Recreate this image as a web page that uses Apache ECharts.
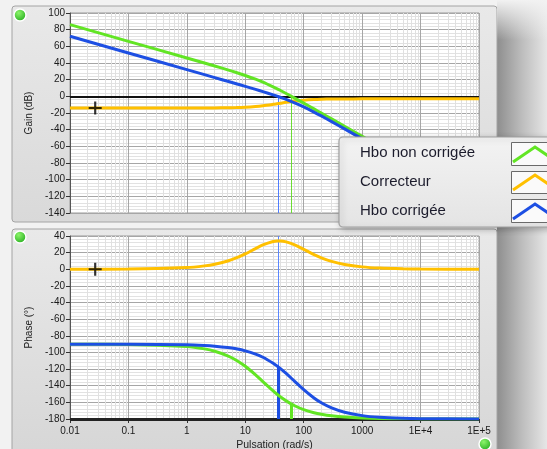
<!DOCTYPE html>
<html><head><meta charset="utf-8">
<script src="https://cdn.jsdelivr.net/npm/echarts@6/dist/echarts.min.js"></script>
<style>html,body{margin:0;padding:0;background:#f2f2f2;}#c{width:547px;height:449px;}</style>
</head><body><div id="c"></div>
<script>
// ---- data ----
const freq = [0.01,0.1,1,2,3,5,7,10,15,20,30,35,40,50,70,100,150,200,300,500,1000,2000,5000,10000,100000];
const gainUncorrected = [86.0,66.0,46.0,39.96,36.38,31.78,28.62,25.05,20.56,16.97,11.34,9.05,6.99,3.44,-2.12,-8.13,-15.08,-20.04,-27.06,-35.93,-47.96,-60.0,-75.9,-87.96,-127.96];
const gainCorrector = [-13.98,-13.98,-13.97,-13.94,-13.89,-13.74,-13.52,-13.10,-12.23,-11.30,-9.58,-8.84,-8.20,-7.14,-5.73,-4.60,-3.80,-3.48,-3.23,-3.09,-3.03,-3.01,-3.01,-3.01,-3.01];
const gainCorrected = [72.04,52.04,32.04,26.02,22.49,18.04,15.10,11.95,8.33,5.69,1.78,0.21,-1.21,-3.70,-7.83,-12.73,-18.88,-23.52,-30.29,-39.02,-50.99,-63.02,-78.93,-90.96,-130.96];
const phaseUncorrected = [-90.0,-90.29,-92.86,-95.71,-98.53,-104.04,-109.29,-116.57,-126.87,-135,-146.31,-150.26,-153.43,-158.2,-164.05,-168.69,-172.41,-174.29,-176.19,-177.71,-178.85,-179.43,-179.77,-179.89,-179.99];
const phaseCorrector = [0.02,0.21,2.05,4.09,6.10,10.0,13.64,18.52,24.89,29.21,33.32,33.93,33.94,32.94,29.33,23.96,17.65,13.76,9.45,5.76,2.89,1.45,0.58,0.29,0.03];
const phaseCorrected = [-90.01,-90.08,-90.81,-91.62,-92.43,-94.04,-95.65,-98.05,-101.98,-105.79,-112.99,-116.33,-119.49,-125.26,-134.72,-144.73,-154.76,-160.53,-166.74,-171.95,-175.96,-177.98,-179.19,-179.59,-179.96];
const xTickLabels = ['0.01','0.1','1','10','100','1000','1E+4','1E+5'];
const seriesNames = ['Hbo non corrigée','Correcteur','Hbo corrigée'];
const crossFreqCorrected = 36;
const crossFreqUncorrected = 62;
const phaseAtCrossCorrected = -117.5;
const phaseAtCrossUncorrected = -162;
const cursorGain = [[0.027, -14]];
const cursorPhase = [[0.027, 0]];

// ---- styles ----
const GREEN = '#62e524', ORANGE = '#ffc000', BLUE = '#1d4fe3';
const FONT = 'Liberation Sans';
const zip = (ys) => freq.map((f, i) => [f, ys[i]]);
const minorFreqs = [];
for (let d = -2; d < 5; d++) for (let k = 2; k <= 9; k++) minorFreqs.push(+(k * Math.pow(10, d)).toPrecision(3));
const minorLines = minorFreqs.map(f => ({ xAxis: f }));
const plusPath = 'path://M5,0 L7,0 L7,5 L12,5 L12,7 L7,7 L7,12 L5,12 L5,7 L0,7 L0,5 L5,5 Z';

function xAxisCfg(idx, showLabels) {
  return {
    type: 'log', logBase: 10, min: 0.01, max: 100000, gridIndex: idx, z: 2,
    splitNumber: 7,
    axisLine: { show: showLabels, onZero: false, lineStyle: { color: '#333', width: 1 } },
    axisTick: { show: showLabels, length: 4, lineStyle: { color: '#333' } },
    axisLabel: {
      show: showLabels, color: '#1a1a1a', fontFamily: FONT, fontSize: 10, margin: 7,
      formatter: v => xTickLabels[Math.round(Math.log10(v)) + 2] || ''
    },
    splitLine: { show: true, lineStyle: { color: '#a6a6a6', width: 1 } },
    name: showLabels ? 'Pulsation (rad/s)' : '',
    nameLocation: 'middle', nameGap: 21,
    nameTextStyle: { color: '#222', fontFamily: FONT, fontSize: 10.5 }
  };
}
function yAxisCfg(idx, min, max, name) {
  return {
    type: 'value', gridIndex: idx, min: min, max: max, interval: 20, z: 2,
    axisLine: { show: true, lineStyle: { color: '#555' } },
    axisTick: { show: true, length: 4, lineStyle: { color: '#333' } },
    axisLabel: { color: '#1a1a1a', fontFamily: FONT, fontSize: 10, margin: 5 },
    splitLine: { show: true, lineStyle: { color: '#a6a6a6', width: 1 } },
    minorTick: { show: false, splitNumber: 5 },
    minorSplitLine: { show: true, lineStyle: { color: '#e2e2e2', width: 1 } },
    name: name, nameLocation: 'middle', nameGap: 31, nameRotate: 90,
    nameTextStyle: { color: '#222', fontFamily: FONT, fontSize: 10 }
  };
}
function curve(name, data, color, xi, yi) {
  return { name, type: 'line', xAxisIndex: xi, yAxisIndex: yi, data: zip(data),
    showSymbol: false, smooth: 0.3, lineStyle: { color, width: 3 }, itemStyle: { color }, z: 5, animation: false };
}
function gridSeries(xi, yi) {
  return { type: 'line', xAxisIndex: xi, yAxisIndex: yi, data: [], z: 1, silent: true, animation: false,
    markLine: { silent: true, symbol: 'none', animation: false, label: { show: false },
      lineStyle: { color: '#e0e0e0', width: 1, type: 'solid' }, data: minorLines } };
}
function vline(f, y0, y1, color, width) {
  return [{ coord: [f, y0], lineStyle: { color, width, type: 'solid' } }, { coord: [f, y1] }];
}
function hline(y, color, width) {
  return { yAxis: y, lineStyle: { color, width, type: 'solid' } };
}

const option = {
  backgroundColor: '#f2f2f2',
  animation: false,
  grid: [
    { left: 70, top: 13, width: 409, height: 200, show: true, backgroundColor: '#ffffff', borderColor: '#9a9a9a', borderWidth: 1, z: 0, outerBoundsMode: 'none', containLabel: false },
    { left: 70, top: 236, width: 409, height: 183, show: true, backgroundColor: '#ffffff', borderColor: '#9a9a9a', borderWidth: 1, z: 0, outerBoundsMode: 'none', containLabel: false }
  ],
  xAxis: [xAxisCfg(0, false), xAxisCfg(1, true)],
  yAxis: [yAxisCfg(0, -140, 100, 'Gain (dB)'), yAxisCfg(1, -180, 40, 'Phase (°)')],
  graphic: [
    { type: 'rect', z: -5, shape: { x: 12, y: 6, width: 485, height: 216, r: 3 },
      style: { fill: new echarts.graphic.LinearGradient(0, 0, 0, 1, [{ offset: 0, color: '#e9e9e9' }, { offset: 1, color: '#d9d9d9' }]), stroke: '#a4a4a4', lineWidth: 1 } },
    { type: 'rect', z: -5, shape: { x: 12, y: 229, width: 485, height: 230, r: 3 },
      style: { fill: new echarts.graphic.LinearGradient(0, 0, 0, 1, [{ offset: 0, color: '#e9e9e9' }, { offset: 1, color: '#d6d6d6' }]), stroke: '#a4a4a4', lineWidth: 1 } },
    { type: 'rect', z: -6, shape: { x: 497, y: 0, width: 50, height: 449 },
      style: { fill: new echarts.graphic.LinearGradient(0, 0, 1, 0, [{ offset: 0, color: '#8e8e8e' }, { offset: 0.5, color: '#bdbdbd' }, { offset: 1, color: '#e6e6e6' }]) } },
    { type: 'rect', z: -5, shape: { x: 497, y: 0, width: 50, height: 40 },
      style: { fill: new echarts.graphic.LinearGradient(0, 0, 0, 1, [{ offset: 0, color: 'rgba(242,242,242,1)' }, { offset: 1, color: 'rgba(242,242,242,0)' }]) } },
    { type: 'circle', z: 50, shape: { cx: 20, cy: 15, r: 6 }, style: { fill: new echarts.graphic.RadialGradient(0.4, 0.35, 0.7, [{ offset: 0, color: '#8cf56a' }, { offset: 1, color: '#1fa81a' }]), stroke: '#ffffff', lineWidth: 1.5 } },
    { type: 'circle', z: 50, shape: { cx: 20, cy: 237, r: 6 }, style: { fill: new echarts.graphic.RadialGradient(0.4, 0.35, 0.7, [{ offset: 0, color: '#8cf56a' }, { offset: 1, color: '#1fa81a' }]), stroke: '#ffffff', lineWidth: 1.5 } },
    { type: 'circle', z: 50, shape: { cx: 485, cy: 444, r: 6 }, style: { fill: new echarts.graphic.RadialGradient(0.4, 0.35, 0.7, [{ offset: 0, color: '#8cf56a' }, { offset: 1, color: '#1fa81a' }]), stroke: '#ffffff', lineWidth: 1.5 } },
    // legend box
    { type: 'group', z: 100, children: [
      { type: 'rect', z: 100, shape: { x: 339, y: 137, width: 215, height: 90, r: 4 },
        style: { fill: new echarts.graphic.LinearGradient(0, 0, 0, 1, [{ offset: 0, color: '#f3f3f3' }, { offset: 1, color: '#e4e4e4' }]), stroke: '#a0a0a0', lineWidth: 1.2,
          shadowBlur: 6, shadowColor: 'rgba(0,0,0,0.25)', shadowOffsetX: 2, shadowOffsetY: 2 } },
      { type: 'text', z: 101, style: { x: 360, y: 153, text: seriesNames[0], fill: '#1c1c2c', font: '15px "Liberation Sans"', verticalAlign: 'middle' } },
      { type: 'text', z: 101, style: { x: 360, y: 182, text: seriesNames[1], fill: '#1c1c2c', font: '15px "Liberation Sans"', verticalAlign: 'middle' } },
      { type: 'text', z: 101, style: { x: 360, y: 211, text: seriesNames[2], fill: '#1c1c2c', font: '15px "Liberation Sans"', verticalAlign: 'middle' } },
      { type: 'rect', z: 101, shape: { x: 511.5, y: 142.5, width: 40, height: 23 }, style: { fill: '#fafafa', stroke: '#6a6a6a', lineWidth: 1 } },
      { type: 'rect', z: 101, shape: { x: 511.5, y: 171.5, width: 40, height: 22 }, style: { fill: '#fafafa', stroke: '#6a6a6a', lineWidth: 1 } },
      { type: 'rect', z: 101, shape: { x: 511.5, y: 199.5, width: 40, height: 23 }, style: { fill: '#fafafa', stroke: '#6a6a6a', lineWidth: 1 } },
      { type: 'polyline', z: 102, shape: { points: [[513, 162], [535, 147], [557, 162]] }, style: { stroke: GREEN, lineWidth: 3, fill: null } },
      { type: 'polyline', z: 102, shape: { points: [[513, 190], [535, 175], [557, 190]] }, style: { stroke: ORANGE, lineWidth: 3, fill: null } },
      { type: 'polyline', z: 102, shape: { points: [[513, 219], [535, 204], [557, 219]] }, style: { stroke: BLUE, lineWidth: 3, fill: null } }
    ] }
  ],
  series: [
    gridSeries(0, 0),
    gridSeries(1, 1),
    { type: 'line', xAxisIndex: 0, yAxisIndex: 0, data: [], z: 4, silent: true,
      markLine: { silent: true, symbol: 'none', animation: false, label: { show: false },
        data: [hline(0, '#111111', 2),
               vline(crossFreqCorrected, 0, -140, '#4f7dff', 1),
               vline(crossFreqUncorrected, 0, -140, '#6cdc34', 1)] } },
    { type: 'line', xAxisIndex: 1, yAxisIndex: 1, data: [], z: 6, silent: true,
      markLine: { silent: true, symbol: 'none', animation: false, label: { show: false },
        data: [hline(-180, '#222222', 3),
               vline(crossFreqCorrected, 40, -180, '#5a86ff', 1),
               vline(crossFreqCorrected, phaseAtCrossCorrected, -180, BLUE, 3),
               vline(crossFreqUncorrected, phaseAtCrossUncorrected, -180, GREEN, 3)] } },
    curve(seriesNames[1], gainCorrector, ORANGE, 0, 0),
    curve(seriesNames[0], gainUncorrected, GREEN, 0, 0),
    curve(seriesNames[2], gainCorrected, BLUE, 0, 0),
    curve(seriesNames[1], phaseCorrector, ORANGE, 1, 1),
    curve(seriesNames[0], phaseUncorrected, GREEN, 1, 1),
    curve(seriesNames[2], phaseCorrected, BLUE, 1, 1),
    { type: 'scatter', xAxisIndex: 0, yAxisIndex: 0, data: cursorGain, symbol: plusPath, symbolSize: 13, itemStyle: { color: '#000' }, z: 8, silent: true },
    { type: 'scatter', xAxisIndex: 1, yAxisIndex: 1, data: cursorPhase, symbol: plusPath, symbolSize: 13, itemStyle: { color: '#000' }, z: 8, silent: true }
  ]
};
const chart = echarts.init(document.getElementById('c'), null, { renderer: 'canvas' });
chart.setOption(option);
</script>
</body></html>
